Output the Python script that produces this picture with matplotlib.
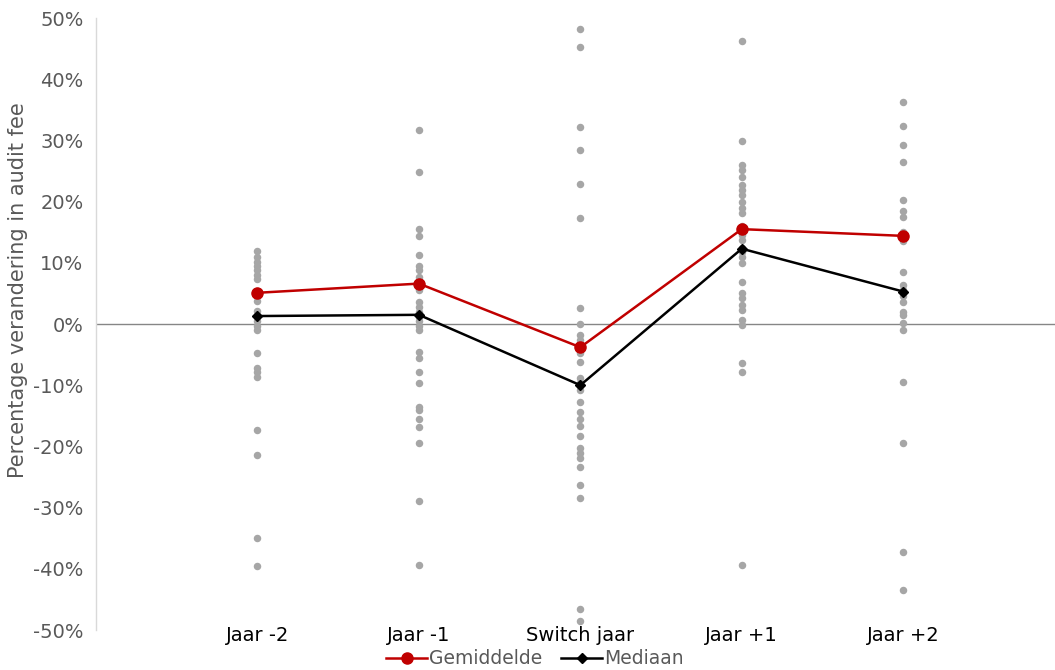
import matplotlib
matplotlib.use("Agg")
import matplotlib.pyplot as plt
from matplotlib.lines import Line2D
from matplotlib.ticker import FuncFormatter

categories = ["Jaar -2", "Jaar -1", "Switch jaar", "Jaar +1", "Jaar +2"]

obs_jaar_m2 = [11.9, 11.0, 10.2, 9.5, 8.8, 8.0, 7.3, 5.4, 4.6, 3.8, 2.2, 1.3, 0.5,
               -0.3, -1.0, -4.7, -7.2, -7.9, -8.6, -17.4, -21.4, -34.9, -39.5]
obs_jaar_m1 = [31.7, 24.9, 15.5, 14.3, 11.2, 9.4, 8.8, 7.7, 6.4, 5.6, 3.6, 2.8, 2.0,
               1.2, 0.5, -0.3, -1.0, -4.5, -5.6, -7.8, -9.7, -13.5, -14.1, -15.6,
               -16.8, -19.5, -29.0, -39.4]
obs_switch = [48.2, 45.2, 32.2, 28.4, 22.8, 17.3, 2.6, 0.0, -1.8, -2.6, -4.0, -4.8,
              -6.2, -8.9, -9.7, -10.0, -10.8, -12.7, -14.3, -15.5, -16.7, -18.3,
              -20.3, -21.1, -21.9, -23.3, -26.3, -28.5, -46.5, -48.6]
obs_jaar_p1 = [46.3, 29.9, 26.0, 25.2, 24.1, 22.7, 21.9, 21.1, 20.0, 18.9, 18.2, 16.0,
               15.2, 14.5, 13.8, 12.4, 11.8, 11.0, 9.9, 6.9, 5.0, 4.2, 3.1, 2.3, 0.7,
               -0.2, -6.4, -7.8, -39.4]
obs_jaar_p2 = [36.3, 32.3, 29.2, 26.5, 20.3, 18.4, 17.5, 15.0, 14.4, 13.5, 8.5, 6.4,
               5.6, 4.5, 3.6, 2.0, 1.5, 0.1, -1.0, -9.4, -19.5, -37.3, -43.4]
observations = [obs_jaar_m2, obs_jaar_m1, obs_switch, obs_jaar_p1, obs_jaar_p2]

gemiddelde = [5.1, 6.6, -3.8, 15.5, 14.4]
mediaan = [1.3, 1.5, -10.0, 12.3, 5.3]

yticks = list(range(-50, 51, 10))

GRAY_TXT = "#595959"
DOT = "#A6A6A6"
RED = "#C00000"

plt.rcParams["font.family"] = ["DejaVu Sans"]

fig = plt.figure(figsize=(10.55, 6.7), dpi=100)
ax = fig.add_axes([96 / 1055, 1 - 630 / 670, 1 - 96 / 1055, (630 - 18) / 670])

xpos = list(range(1, len(categories) + 1))

for x, vals in zip(xpos, observations):
    ax.plot([x] * len(vals), vals, linestyle="none", marker="o", markersize=5.4,
            color=DOT, markeredgewidth=0, zorder=2)

ax.axhline(0, color="#868686", linewidth=1.0, zorder=1)

ax.plot(xpos, mediaan, color="black", linewidth=1.8, marker="D", markersize=5,
        zorder=3)
ax.plot(xpos, gemiddelde, color=RED, linewidth=1.8, marker="o", markersize=8,
        zorder=4)

ax.set_xlim(0, 5.94)
ax.set_ylim(-50, 50)
ax.set_yticks(yticks)
ax.yaxis.set_major_formatter(FuncFormatter(lambda v, p: f"{int(round(v))}%"))
ax.set_xticks(xpos)
ax.set_xticklabels(categories)

ax.tick_params(axis="y", length=0, pad=9, labelsize=14, labelcolor=GRAY_TXT)
ax.tick_params(axis="x", length=0, pad=-3, labelsize=14, labelcolor="black")

for s in ["top", "right", "bottom"]:
    ax.spines[s].set_visible(False)
ax.spines["left"].set_color("#D9D9D9")
ax.spines["left"].set_linewidth(1.0)

fig.text(18 / 1055, 1 - 290 / 670, "Percentage verandering in audit fee",
         rotation=90, ha="center", va="center", fontsize=15, color=GRAY_TXT)

handles = [
    Line2D([0], [0], color=RED, linewidth=1.8, marker="o", markersize=8),
    Line2D([0], [0], color="black", linewidth=1.8, marker="D", markersize=5),
]
leg = fig.legend(handles, ["Gemiddelde", "Mediaan"], loc="center",
                 bbox_to_anchor=(535 / 1055, 1 - 659 / 670), ncol=2, frameon=False,
                 fontsize=13.5, handlelength=2.2, handletextpad=0.1,
                 columnspacing=1.0, borderpad=0)
for t in leg.get_texts():
    t.set_color(GRAY_TXT)

fig.savefig("out.png", dpi=100)
